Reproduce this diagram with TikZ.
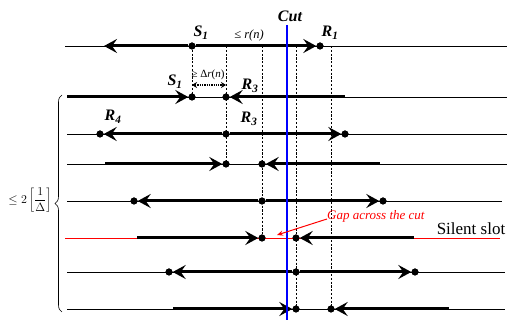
\documentclass[tikz,border=0pt]{standalone}
\usepackage{fontspec}
\setmainfont{Liberation Serif}
\usetikzlibrary{arrows.meta,decorations.pathreplacing}
\tikzset{
  baseln/.style={line width=0.8pt},
  fatline/.style={line width=3pt},
  redln/.style={line width=0.8pt, red},
  dot/.style={circle, fill=black, inner sep=0pt, minimum size=7pt},
  tip/.style={-{Stealth[length=13pt,width=14pt,inset=5pt]}},
  vdash/.style={line width=0.8pt, dash pattern=on 2.2pt off 1.6pt},
  cutln/.style={line width=2.6pt, blue},
  lab/.style={font=\fontsize{16}{16}\selectfont\bfseries\itshape, inner sep=0pt},
  small/.style={font=\fontsize{12.5}{13}\selectfont\itshape, inner sep=0pt},
}
\begin{document}
\begin{tikzpicture}[x=1pt,y=-1pt]
\useasboundingbox (0,0) rectangle (507,320);

% row coordinates
\coordinate (a0) at (65,46);  \coordinate (a9) at (507,46); \coordinate (aL) at (104,46);
\coordinate (b0) at (67,97);  \coordinate (b9) at (507,97); \coordinate (bE) at (345,97);
\coordinate (c0) at (67,134); \coordinate (c9) at (507,134);
\coordinate (d0) at (67,164); \coordinate (d9) at (507,164); \coordinate (dA) at (105,164); \coordinate (dB) at (380,164);
\coordinate (e0) at (67,201); \coordinate (e9) at (502,201);
\coordinate (f0) at (65,238); \coordinate (f9) at (500,238); \coordinate (fA) at (137,238); \coordinate (fB) at (414,238);
\coordinate (g0) at (67,272); \coordinate (g9) at (505,272);
\coordinate (h0) at (67,309); \coordinate (h9) at (505,309); \coordinate (hA) at (173,309); \coordinate (hB) at (449,309);
\coordinate (t2) at (226,46); \coordinate (t3) at (262,46); \coordinate (t4) at (296,46); \coordinate (t5) at (331,46);
\coordinate (cutTop) at (287,25); \coordinate (cutBot) at (287,320);

% dots
\node[dot] (aS) at (192,46) {};
\node[dot] (aR) at (320,46) {};
\node[dot] (bS) at (192,97) {};
\node[dot] (bR) at (226,97) {};
\node[dot] (cL) at (100,134) {};
\node[dot] (cM) at (226,134) {};
\node[dot] (cR) at (345,134) {};
\node[dot] (dL) at (226,164) {};
\node[dot] (dR) at (262,164) {};
\node[dot] (eL) at (134,201) {};
\node[dot] (eM) at (262,201) {};
\node[dot] (eR) at (383,201) {};
\node[dot] (fL) at (262,238) {};
\node[dot] (fR) at (296,238) {};
\node[dot] (gL) at (169,272) {};
\node[dot] (gM) at (296,272) {};
\node[dot] (gR) at (415,272) {};
\node[dot] (hL) at (296,309) {};
\node[dot] (hR) at (331,309) {};

% thin base lines
\draw[baseln] (a0) -- (a9);
\draw[baseln] (b0) -- (b9);
\draw[baseln] (c0) -- (c9);
\draw[baseln] (d0) -- (d9);
\draw[baseln] (e0) -- (e9);
\draw[redln] (f0) -- (f9);
\draw[baseln] (g0) -- (g9);
\draw[baseln] (h0) -- (h9);

% dashed verticals
\draw[vdash] (aS.center) -- (bS.center);
\draw[vdash] (t2) -- (dL.center);
\draw[vdash] (t3) -- (fL.center);
\draw[vdash] (t4) -- (hL.center);
\draw[vdash] (t5) -- (hR.center);

% thick transmissions
\draw[fatline,tip] (aS) -- (aL);
\draw[fatline,tip] (aS) -- (aR);
\draw[fatline,tip] (b0) -- (bS);
\draw[fatline,tip] (bE) -- (bR);
\draw[fatline,tip] (cM) -- (cL);
\draw[fatline,tip] (cM) -- (cR);
\draw[fatline,tip] (dA) -- (dL);
\draw[fatline,tip] (dB) -- (dR);
\draw[fatline,tip] (eM) -- (eL);
\draw[fatline,tip] (eM) -- (eR);
\draw[fatline,tip] (fA) -- (fL);
\draw[fatline,tip] (fB) -- (fR);
\draw[fatline,tip] (gM) -- (gL);
\draw[fatline,tip] (gM) -- (gR);
\draw[fatline,tip] (hA) -- (hL);
\draw[fatline,tip] (hB) -- (hR);

% cut
\draw[cutln] (cutTop) -- (cutBot);

% redraw dots on top
\foreach \n in {aS,aR,bS,bR,cL,cM,cR,dL,dR,eL,eM,eR,fL,fR,gL,gM,gR,hL,hR}
  \fill (\n.center) circle (3.5pt);

% double arrow
\draw[line width=1.3pt, densely dotted, {Stealth[length=5pt,width=6pt]}-{Stealth[length=5pt,width=6pt]}]
  (bS.center |- 0,85) coordinate (da1) -- (bR.center |- 0,85) coordinate (da2);

% labels
\node[lab] (cutlab) at (290,16) {Cut};
\node[lab] (s1a) at (201,33) {S\textsubscript{1}};
\node[small] (rn) at (249,35) {≤ r(n)};
\node[lab] (r1) at (330,33) {R\textsubscript{1}};
\node[lab] (s1b) at (175,82) {S\textsubscript{1}};
\node[small, font=\fontsize{11}{12}\selectfont] (dr) at (208,75) {≥ Δ\textit{r}(\textit{n})};
\node[lab] (r3a) at (250,86) {R\textsubscript{3}};
\node[lab] (r4) at (113,117) {R\textsubscript{4}};
\node[lab] (r3b) at (249,119) {R\textsubscript{3}};
\node[small, red, font=\fontsize{13}{14}\selectfont\itshape, anchor=west] (gap) at (327,216) {Gap across the cut};
\coordinate (gapE) at (277,235);
\draw[red, line width=1pt, -{Stealth[length=6pt,width=5pt]}] ([yshift=-3pt]gap.west) -- (gapE);
\node[font=\fontsize{17}{18}\selectfont, inner sep=0pt] (silent) at (471,229) {Silent slot};

% brace
\coordinate (brB) at (62,312); \coordinate (brT) at (62,95);
\draw[line width=0.6pt, decorate, decoration={brace, amplitude=7pt}] (brB) -- (brT);
\node[font=\fontsize{13}{15}\selectfont, inner sep=0pt] (bound) at (30,200)
  {$\displaystyle\leq 2\left[\frac{1}{\Delta}\right]$};
\end{tikzpicture}
\end{document}
